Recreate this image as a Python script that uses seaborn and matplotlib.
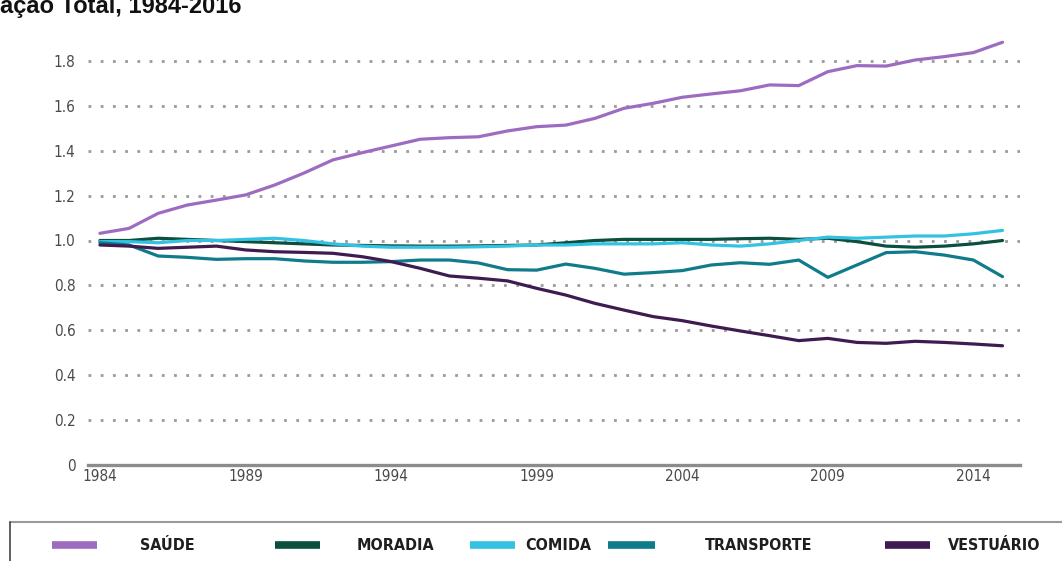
import matplotlib
matplotlib.use("Agg")
import matplotlib.pyplot as plt
from matplotlib.lines import Line2D
import seaborn as sns
import pandas as pd

# Data
years = list(range(1984, 2016))

saude = [1.032, 1.054, 1.121, 1.158, 1.180, 1.203, 1.247, 1.300, 1.359, 1.391,
         1.421, 1.451, 1.458, 1.462, 1.488, 1.507, 1.514, 1.544, 1.589, 1.611,
         1.638, 1.653, 1.667, 1.693, 1.690, 1.752, 1.779, 1.777, 1.804, 1.819,
         1.837, 1.883]
moradia = [1.000, 1.000, 1.010, 1.005, 1.000, 0.995, 0.990, 0.985, 0.980, 0.978,
           0.976, 0.975, 0.975, 0.976, 0.978, 0.980, 0.990, 1.000, 1.005, 1.005,
           1.005, 1.005, 1.008, 1.010, 1.005, 1.010, 0.995, 0.975, 0.970, 0.975,
           0.985, 1.000]
comida = [0.995, 0.995, 0.990, 1.000, 1.000, 1.005, 1.010, 1.000, 0.985, 0.975,
          0.970, 0.970, 0.970, 0.972, 0.975, 0.980, 0.980, 0.985, 0.985, 0.985,
          0.990, 0.980, 0.975, 0.985, 1.000, 1.015, 1.010, 1.015, 1.020, 1.020,
          1.030, 1.045]
transporte = [0.990, 0.980, 0.931, 0.925, 0.916, 0.919, 0.919, 0.909, 0.903, 0.903,
              0.906, 0.913, 0.913, 0.900, 0.870, 0.868, 0.895, 0.876, 0.850, 0.857,
              0.866, 0.891, 0.901, 0.894, 0.913, 0.836, 0.891, 0.946, 0.950, 0.935,
              0.913, 0.839]
vestuario = [0.980, 0.975, 0.965, 0.970, 0.975, 0.958, 0.950, 0.947, 0.943, 0.928,
             0.906, 0.876, 0.842, 0.832, 0.820, 0.787, 0.757, 0.720, 0.690, 0.661,
             0.643, 0.619, 0.597, 0.576, 0.554, 0.564, 0.546, 0.542, 0.551, 0.546,
             0.539, 0.531]

series_names = ["SAÚDE", "MORADIA", "COMIDA", "TRANSPORTE", "VESTUÁRIO"]
series_colors = ["#9d6cc0", "#0b4f3e", "#33c2e4", "#0f7b8b", "#3e1b50"]
x_ticks = [1984, 1989, 1994, 1999, 2004, 2009, 2014]
y_ticks = [0, 0.2, 0.4, 0.6, 0.8, 1.0, 1.2, 1.4, 1.6, 1.8]

rows = []
for name, vals in zip(series_names, [saude, moradia, comida, transporte, vestuario]):
    for yr, v in zip(years, vals):
        rows.append({"ano": yr, "valor": v, "serie": name})
df = pd.DataFrame(rows)

sns.set_theme(style="white")
plt.rcParams["font.family"] = ["DejaVu Sans"]
plt.rcParams["font.stretch"] = "condensed"

W, H = 1062, 561
fig = plt.figure(figsize=(W / 100, H / 100), dpi=100)
ax = fig.add_axes([88 / W, 1 - 465 / H, (1020 - 88) / W, (465 - 16) / H])

# dotted gridlines
for yv in y_ticks[1:]:
    ax.axhline(yv, color="#9a9a9a", lw=2.0, ls=(0, (1, 3.4)), zorder=1)

sns.lineplot(data=df, x="ano", y="valor", hue="serie", hue_order=series_names,
             palette=series_colors, linewidth=2.3, legend=False, ax=ax, zorder=3)

ax.set_xlim(1983.59, 2015.6)
ax.set_ylim(0, 2.0)
ax.set_xticks(x_ticks)
ax.set_xticklabels([str(t) for t in x_ticks])
ax.set_yticks(y_ticks)
ax.set_yticklabels(["0"] + [f"{t:.1f}" for t in y_ticks[1:]])
ax.tick_params(axis="both", length=0, labelsize=11, labelcolor="#4a4a4a")
ax.tick_params(axis="x", pad=3)
ax.tick_params(axis="y", pad=9)
ax.set_xlabel("")
ax.set_ylabel("")
for side in ["top", "right", "left"]:
    ax.spines[side].set_visible(False)
ax.spines["bottom"].set_color("#8c8c8c")
ax.spines["bottom"].set_linewidth(2.4)
ax.patch.set_alpha(0)

# title, cropped at the top as in the source
fig.text(0 / W, 1 - 13 / H, "ação Total, 1984-2016", fontsize=17, fontweight="bold",
         family=["Liberation Sans", "DejaVu Sans"], fontstretch="normal",
         color="#111111", va="baseline", ha="left")

# legend box drawn at the bottom
fig.add_artist(Line2D([10 / W, 1.0], [1 - 522 / H, 1 - 522 / H], transform=fig.transFigure,
                      color="#9a9a9a", lw=1.5))
fig.add_artist(Line2D([10 / W, 10 / W], [1 - 522 / H, 0], transform=fig.transFigure,
                      color="#444444", lw=1.2))
patch_x = [(52, 97), (275, 320), (470, 515), (608, 655), (885, 930)]
label_x = [140, 357, 525, 705, 948]
yl = 1 - 545 / H
for name, col, (x0, x1), lx in zip(series_names, series_colors, patch_x, label_x):
    fig.add_artist(Line2D([x0 / W, x1 / W], [yl, yl], transform=fig.transFigure,
                          color=col, lw=5.5, solid_capstyle="butt"))
    fig.text(lx / W, yl, name, fontsize=11.5, fontweight="bold", color="#1e1e1e",
             va="center", ha="left")

fig.savefig("out.png", dpi=100)
